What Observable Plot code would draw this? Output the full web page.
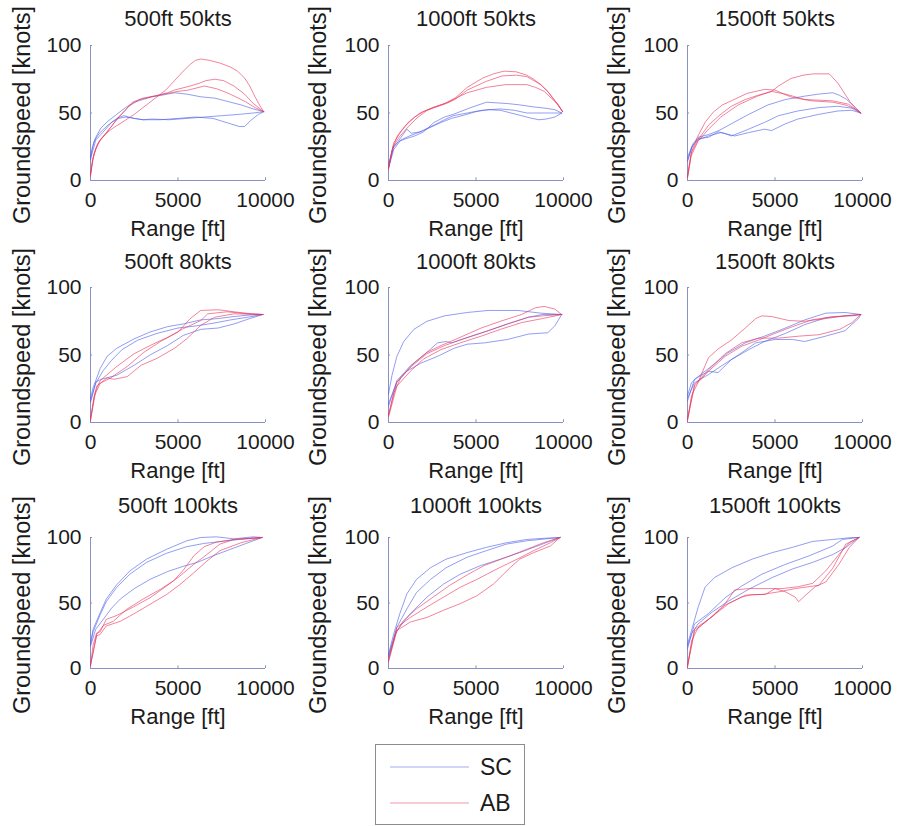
<!DOCTYPE html>
<html>
<head>
<meta charset="utf-8">
<script src="https://cdn.jsdelivr.net/npm/d3@7"></script>
<script src="https://cdn.jsdelivr.net/npm/@observablehq/plot@0.6"></script>
<style>
  body { margin: 0; background: #fff; }
  #chart { position: relative; width: 898px; height: 826px; font-family: "Liberation Sans", Arial, sans-serif; color: #1b1b1b; }
  #chart > svg { position: absolute; }
  #legend { position: absolute; left: 375px; top: 744px; width: 150px; height: 81px; box-sizing: border-box; border: 1px solid #8c8c8c; background: #fff; }
</style>
</head>
<body>
<div id="chart"><div id="legend"></div></div>
<script>
// Approach altitude and target groundspeed of each panel
const altitudes = ["500ft", "1000ft", "1500ft"];
const targetSpeeds = ["50kts", "80kts", "100kts"];
const xTicks = [0, 5000, 10000];
const yTicks = [0, 50, 100];
const groups = ["SC", "AB"];

// Each run: [range (ft), groundspeed (knots)]
const sc_500_50 = [
  [[0,15],[100,24],[300,32],[600,39],[1000,44],[1500,49],[2000,54],[2500,58],[3000,60],[3500,62],[4000,63],[4800,65],[5500,64],[6300,62],[7100,61],[8000,58],[8600,56],[9300,53],[9900,51]],
  [[0,18],[200,29],[500,35],[1000,41],[1500,46],[1900,48],[2500,46],[3000,45],[4000,45],[5000,46],[6000,47],[7000,46],[7500,44],[8000,42],[8500,40],[8800,40],[9200,45],[9600,49],[9900,51]],
  [[0,16],[300,30],[800,37],[1200,43],[1600,46],[2000,47],[2500,46],[3000,45],[3500,45.5],[4500,45],[5500,46],[6500,47],[7500,48],[8500,49],[9300,50],[9900,51]]
];
const ab_500_50 = [
  [[0,3],[100,14],[300,24],[600,31],[1000,36],[1300,39],[1800,43],[2500,49],[3200,56],[3800,62],[4300,67],[4800,74],[5300,81],[5700,86],[6000,89],[6300,90],[6800,89],[7400,87],[8000,84],[8400,81],[8800,76],[9100,70],[9400,62],[9700,55],[9900,51]],
  [[0,5],[150,17],[400,27],[800,34],[1200,40],[1600,47],[1900,51],[2400,58],[3000,61],[3800,63],[4400,65],[4800,67],[5700,70],[6200,72],[6600,74],[7100,75],[7600,74],[8200,70],[8800,64],[9300,57],[9900,51]],
  [[0,4],[200,20],[500,29],[900,35],[1300,42],[1700,48],[2200,55],[2800,60],[3500,62],[4200,64],[5000,66],[5600,67],[6500,70],[7200,68],[7800,65],[8300,62],[8900,58],[9400,54],[9900,51]]
];
const sc_1000_50 = [
  [[0,10],[300,25],[600,29],[1000,31],[1500,33],[2000,36],[2600,43],[3200,47],[3700,49],[4700,54],[5600,58],[6200,57.5],[6800,57],[7500,56],[8300,54.5],[9000,53.5],[9500,52.5],[9900,50]],
  [[0,12],[250,24],[550,29],[1050,38],[1300,35],[1800,36],[2600,41],[3200,45],[3700,48],[4500,50],[5300,52],[6400,53],[7200,52],[7900,50],[8600,50],[9300,50],[9900,50]],
  [[0,9],[300,23],[700,30],[1200,33],[2000,37],[3000,43],[3600,46],[4200,48],[5000,51],[5700,52.5],[6400,52],[7000,50],[7600,48],[8200,46],[8600,45],[9000,45.5],[9500,47],[9900,50]]
];
const ab_1000_50 = [
  [[0,8],[200,22],[500,33],[800,38],[1200,44],[1800,50],[2500,54],[3200,57],[3800,61],[4500,69],[5400,76],[6000,79],[6600,81],[7300,80.5],[7900,78],[8300,75],[8700,71],[9100,66],[9400,61],[9700,56],[9950,51]],
  [[0,10],[300,28],[700,36],[1000,41],[1500,47],[2000,51],[2600,54],[3300,57],[3800,60],[4500,67],[5600,73.5],[6500,77.5],[7300,78],[7900,77],[8700,71],[9100,66],[9500,59],[9950,51]],
  [[0,9],[250,25],[600,32],[1000,38],[1600,46],[2200,52],[2800,55],[3400,58],[4000,62],[4500,65],[5600,69],[6700,71],[7900,71],[8400,69],[8900,66],[9300,61],[9650,57],[9950,51]]
];
const sc_1500_50 = [
  [[0,17],[300,27],[600,32],[1200,34],[1800,37],[2500,42],[3500,49],[4600,56],[5600,60],[6700,62.5],[7500,64],[8300,65],[8700,63],[9100,60],[9500,55],[9900,50]],
  [[0,15],[300,26],[600,31],[1200,32],[1750,36],[2100,35],[2500,33],[3300,37],[4400,43],[5200,48],[6300,51.5],[7500,54],[8600,55],[9400,53.5],[9900,50]],
  [[0,14],[250,25],[600,30],[1200,33],[1900,35.5],[2700,33],[3500,35.5],[4400,38],[4800,37],[5600,42],[6300,45.5],[7500,49],[8600,51.5],[9400,52],[9900,50]]
];
const ab_1500_50 = [
  [[0,3],[200,20],[600,30],[1200,41],[1800,48],[2500,55],[3300,60],[4000,63],[4800,66],[5200,70],[5900,75.5],[6600,78],[7200,79],[8100,79],[8600,72],[9000,64],[9300,58],[9900,50]],
  [[0,2],[250,22],[600,33],[1000,43],[1500,51],[2000,56],[2500,59],[3400,64.5],[4400,67.5],[5000,67],[5500,64],[6000,61.5],[7100,59],[8300,58],[9000,56],[9500,53.5],[9900,50]],
  [[0,2],[200,18],[600,29],[1200,38],[1900,47],[2900,56],[4000,62.5],[4800,66],[5600,64],[6700,60],[8300,59],[9200,56.5],[9900,50]]
];
const sc_500_80 = [
  [[0,18],[150,26],[300,31],[550,40],[950,49],[1500,55],[2500,62],[3400,67],[4400,71],[5300,73],[6300,76],[7300,77],[8200,78.5],[9000,79.5],[9850,80]],
  [[0,15],[300,29],[700,38],[1200,46],[1800,54],[2700,61],[3800,66],[5000,70],[6000,71.5],[7000,73.5],[8000,76],[9000,78],[9850,80]],
  [[0,16],[300,30],[600,32],[1500,35],[2500,42.5],[3400,50],[4400,57],[5300,64.5],[6300,69],[7300,70],[8200,73],[9100,77],[9850,80]]
];
const ab_500_80 = [
  [[0,1],[200,19],[550,29],[1150,33],[2100,41.5],[3050,52],[4000,60],[5000,67],[5700,77],[6300,83],[7300,83.5],[8200,82],[9200,80.5],[9850,80]],
  [[0,2],[350,27],[950,33],[1350,32],[2100,34],[2900,42.5],[3800,47.5],[4800,55],[5500,62],[6300,72],[7100,78],[8200,80.5],[9850,80]],
  [[0,3],[250,22],[550,31],[1500,41.5],[2500,51],[3400,57],[4400,63],[5300,69.5],[6300,75.5],[6700,80.5],[7800,82],[9000,80.5],[9850,80]]
];
const sc_1000_80 = [
  [[0,21],[200,35],[480,49],[870,60],[1450,69],[2200,75],[3200,79],[4500,81.5],[5700,83],[7400,83],[8700,81],[9900,80]],
  [[0,14],[480,30],[1050,38],[1850,44],[2800,49],[3750,55],[4500,58],[5500,59],[6800,61.5],[8000,65.5],[9100,66.5],[9500,71.5],[9900,80]],
  [[0,12],[480,31],[1250,42],[2200,52],[2800,59],[3300,60],[3600,59],[4500,63],[5700,68],[6800,73],[8000,78],[8800,80],[9900,80]]
];
const ab_1000_80 = [
  [[0,5],[300,22],[700,33],[1450,44],[2200,52],[3000,57],[3900,62],[5300,70],[6400,75],[7600,80],[8400,85],[8900,86],[9500,84],[9900,80]],
  [[0,6],[480,30],[1250,41],[2200,51],[3200,57],[4300,62],[5700,68],[6800,73],[8000,78],[8800,79],[9900,80]],
  [[0,4],[480,27],[1250,38],[2000,47],[3000,54],[4100,59],[5300,64],[6400,69],[7600,74],[8800,77],[9900,80]]
];
const sc_1500_80 = [
  [[0,20],[230,29.5],[600,34],[1400,42],[2300,51.5],[3300,59],[4400,64],[5600,70],[6700,76],[7900,81],[9000,81.5],[9900,80]],
  [[0,18],[400,29.5],[1200,35.5],[1950,42],[2900,50],[3900,59],[5000,61.5],[6000,61.5],[6700,60],[7900,64],[9000,68],[9800,77.5],[9900,80]],
  [[0,16],[400,32],[1200,38],[1750,37],[2500,46.5],[3500,54],[4400,60],[5600,66],[6700,72.5],[7900,77.5],[9000,79],[9900,80]]
];
const ab_1500_80 = [
  [[0,1],[230,20],[600,29.5],[1000,42],[1200,48],[1750,54.5],[2500,61],[3300,70],[3900,77],[4250,79],[4800,78.5],[5800,75.5],[6700,75],[7900,77],[9000,79],[9900,80]],
  [[0,2],[400,27],[1200,38],[2150,49],[3100,56.5],[4050,61],[5000,66],[6000,71],[7100,76],[8300,78.5],[9400,79],[9900,80]],
  [[0,3],[400,28],[1200,39],[2150,51],[3100,59],[4050,62.5],[5200,62.5],[6400,64],[7500,65],[8700,69],[9400,74],[9900,80]]
];
const sc_500_100 = [
  [[0,20],[150,30],[550,42.5],[900,53],[1500,64],[2250,74.5],[3200,83.5],[4350,91],[5500,97.5],[6300,100],[7200,100.5],[8200,99],[9300,100.5],[9800,100]],
  [[0,18],[150,28],[550,41],[900,51],[1500,62],[2250,72],[3200,81],[4350,88],[5500,93],[6500,95.5],[7500,97],[8500,98.5],[9800,100]],
  [[0,17],[300,30],[700,37],[1200,46],[1700,53],[2500,61],[3400,68],[4400,74],[5300,78],[6100,81],[7000,86],[8000,91],[9000,96],[9800,100]]
];
const ab_500_100 = [
  [[0,2],[150,18],[350,27],[550,28],[900,37.5],[1500,40.5],[2450,47],[3400,54],[4350,63],[5100,70.5],[5900,79.5],[6650,87],[7400,95],[8200,98.5],[9800,100]],
  [[0,3],[350,25],[550,26],[900,32.5],[1700,36],[2450,41.5],[3400,49],[4350,56.5],[5100,64],[5900,73],[6650,82],[7400,90],[8600,96],[9800,100]],
  [[0,2],[350,26],[750,33],[1300,36],[2050,45],[3000,53],[4000,60.5],[4750,67],[5300,75],[5900,86],[6500,93],[7200,96.5],[8200,98.5],[9800,100]]
];
const sc_1000_100 = [
  [[0,11],[300,26.5],[650,42],[1050,57],[1600,68],[2400,77],[3300,83.5],[4500,88.5],[5600,92.5],[6750,96],[7900,98.5],[9000,99.5],[9800,100]],
  [[0,10],[480,31.5],[1050,45.5],[1600,58],[2400,68],[3300,77],[4500,85],[5600,90],[6750,95],[7900,97.5],[9800,100]],
  [[0,9],[480,29],[1250,42],[2200,54.5],[3150,64.5],[4100,72],[5250,78.5],[6400,83.5],[7500,88.5],[8700,94.5],[9800,100]]
];
const ab_1000_100 = [
  [[0,6],[400,26.5],[850,36.5],[1600,45.5],[2550,54.5],[3500,63.5],[4500,71.5],[5450,78.5],[6750,85],[7900,91],[8850,96],[9800,100]],
  [[0,7],[480,31.5],[1250,39],[2200,47],[3150,54.5],[4100,62],[5050,68],[6200,76],[7350,83.5],[8300,90],[9250,96],[9800,100]],
  [[0,5],[480,29],[1250,35.5],[2200,39],[3150,44.5],[4100,49.5],[5050,55.5],[6000,64.5],[6950,77],[7500,83.5],[8300,88.5],[9250,93.5],[9800,100]]
];
const sc_1500_100 = [
  [[0,18.5],[230,29],[600,46.5],[1000,62],[1550,69.5],[2550,77],[3700,83.5],[4850,88.5],[6000,92.5],[7150,97],[8300,98.5],[9400,100],[9800,100]],
  [[0,17],[230,26.5],[600,34],[1400,43],[2350,51.5],[3500,60.5],[4850,69.5],[6000,76],[7150,81],[8300,87],[9050,92.5],[9800,100]],
  [[0,15],[400,34],[1200,42],[2150,54],[3100,63],[4250,72],[5600,79.5],[6950,86],[8300,93.5],[8850,98.5],[9800,100]]
];
const ab_1500_100 = [
  [[0,1],[230,21],[600,31],[1400,39.5],[2150,49.5],[2700,60],[3500,61],[4450,61],[5400,61],[6350,62.5],[7150,65],[7900,74.5],[8650,87],[9250,96],[9800,100]],
  [[0,2],[400,28.5],[1200,37.5],[2150,48.5],[3100,54.5],[3700,56.5],[4450,56.5],[5000,61],[5600,58.5],[6150,54.5],[6350,51],[6750,56],[7300,62.5],[7900,66],[8650,79.5],[9250,92.5],[9800,100]],
  [[0,2],[400,30],[1400,39.5],[2350,49.5],[3300,56],[4250,56.5],[5200,58.5],[6150,61],[6950,62.5],[7500,63.5],[8300,76.5],[9050,95],[9800,100]]
];

// Panels in reading order: rows are target speeds, columns are altitudes
const panelRuns = [
  [sc_500_50, ab_500_50], [sc_1000_50, ab_1000_50], [sc_1500_50, ab_1500_50],
  [sc_500_80, ab_500_80], [sc_1000_80, ab_1000_80], [sc_1500_80, ab_1500_80],
  [sc_500_100, ab_500_100], [sc_1000_100, ab_1000_100], [sc_1500_100, ab_1500_100]
];

// Page layout (pixels)
const colLeft = [90, 388, 687];
const plotWidth = 175;
const rowTop = [45, 287, 537];
const rowBottom = [180, 422, 668];
const titleCenter = [18, 261, 505];
const yLabelOffset = [-68, -70, -70];
const margin = {left: 92, right: 34, top: 46, bottom: 62};

const blue = "#4a5ee8";
const red = "#e8325a";
const axisColor = "#8a90c2";
const font = "'Liberation Sans', Arial, sans-serif";

const chart = document.getElementById("chart");

panelRuns.forEach(([sc, ab], k) => {
  const row = Math.floor(k / 3), col = k % 3;
  const rows = [];
  [sc, ab].forEach((runs, g) => runs.forEach((run, i) =>
    run.forEach(([range, speed]) => rows.push({group: groups[g], run: `${groups[g]}${i}`, range, speed}))
  ));
  const innerH = rowBottom[row] - rowTop[row];
  const svg = Plot.plot({
    width: plotWidth + margin.left + margin.right,
    height: innerH + margin.top + margin.bottom,
    marginLeft: margin.left, marginRight: margin.right,
    marginTop: margin.top, marginBottom: margin.bottom,
    style: {fontFamily: font, fontSize: "20px", color: "#1b1b1b", background: "transparent", overflow: "visible"},
    x: {domain: [0, 10000]},
    y: {domain: [0, 100]},
    color: {domain: groups, range: [blue, red]},
    marks: [
      Plot.ruleY([0], {stroke: axisColor, strokeWidth: 1}),
      Plot.ruleX([0], {stroke: axisColor, strokeWidth: 1}),
      Plot.ruleX(xTicks, {x: d => d, y1: 0, y2: 2, stroke: axisColor}),
      Plot.ruleY(yTicks, {y: d => d, x1: 0, x2: 120, stroke: axisColor}),
      Plot.axisX({ticks: xTicks, tickSize: 0, tickPadding: 12, tickFormat: d => String(d), label: null, fontSize: 21}),
      Plot.axisY({ticks: yTicks, tickSize: 0, tickPadding: 9, tickFormat: d => String(d), label: null, fontSize: 21}),
      Plot.line(rows, {x: "range", y: "speed", z: "run", stroke: "group", strokeWidth: 1, strokeOpacity: 0.6}),
      Plot.text([`${altitudes[col]} ${targetSpeeds[row]}`], {text: d => d, frameAnchor: "top", lineAnchor: "middle", textAnchor: "middle", dy: titleCenter[row] - rowTop[row], fontSize: 22}),
      Plot.text(["Range [ft]"], {text: d => d, frameAnchor: "bottom", lineAnchor: "middle", textAnchor: "middle", dy: 48, fontSize: 22}),
      Plot.text(["Groundspeed [knots]"], {text: d => d, frameAnchor: "left", lineAnchor: "middle", textAnchor: "middle", rotate: -90, dx: yLabelOffset[col], dy: 2, fontSize: 23.5})
    ]
  });
  svg.style.left = `${colLeft[col] - margin.left}px`;
  svg.style.top = `${rowTop[row] - margin.top}px`;
  chart.appendChild(svg);
});

// Legend: one short sample line per group
const legend = d3.select("#legend").append("svg").attr("width", 148).attr("height", 79);
groups.forEach((g, i) => {
  const y = 22 + i * 36;
  legend.append("line").attr("x1", 14).attr("x2", 93).attr("y1", y).attr("y2", y)
    .attr("stroke", i === 0 ? blue : red).attr("stroke-opacity", 0.5).attr("stroke-width", 1);
  legend.append("text").attr("x", 104).attr("y", y).attr("dy", "0.35em")
    .attr("font-family", font).attr("font-size", 23).attr("fill", "#1b1b1b").text(g);
});
</script>
</body>
</html>
